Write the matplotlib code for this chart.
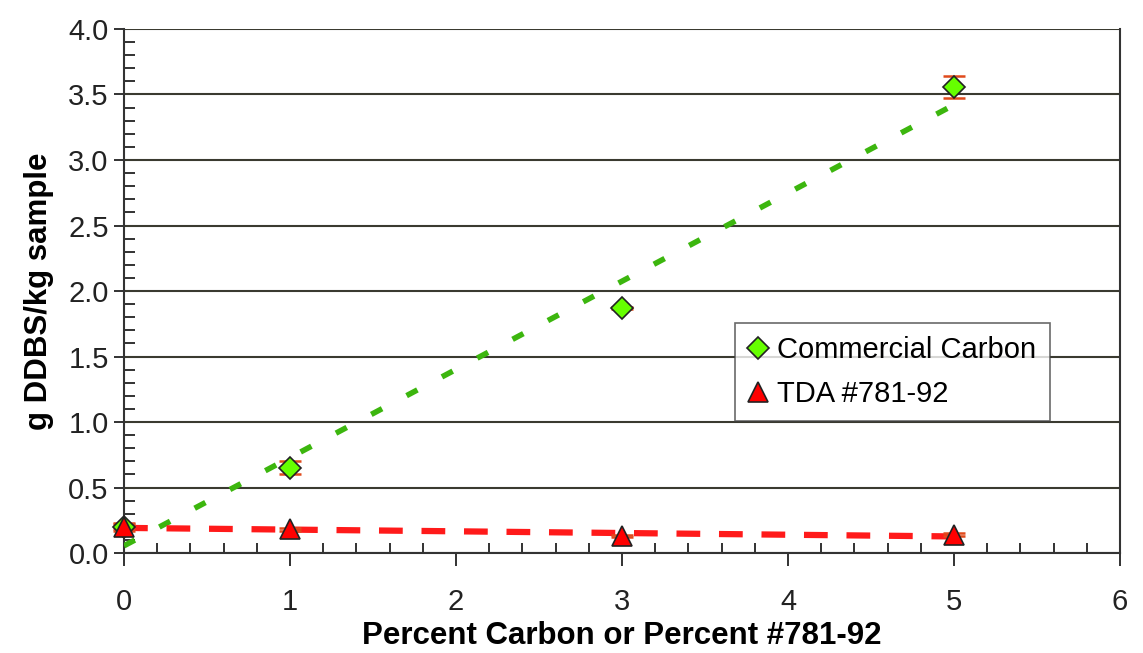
"""DDBS uptake versus percent carbon or percent #781-92."""
import numpy as np
import matplotlib.pyplot as plt
from matplotlib.ticker import MultipleLocator

plt.rcParams['font.family'] = ['Liberation Sans', 'DejaVu Sans']

# measured values
pct = [0, 1, 3, 5]
commercial = [0.20, 0.65, 1.87, 3.56]
commercial_err = [0.02, 0.05, 0.01, 0.085]
tda = [0.20, 0.18, 0.13, 0.14]
tda_err = [0.03, 0.01, 0.01, 0.01]

fig = plt.figure(figsize=(11.43, 6.53), dpi=100)
ax = fig.add_axes([0.1085, 0.1531, 0.8714, 0.8025])

# linear trend lines
xfit = np.array([0, 5])
cfit = np.polyfit(pct, commercial, 1)
tfit = np.polyfit(pct, tda, 1)
ax.plot(xfit, np.polyval(cfit, xfit), color='#3cb60e', lw=4,
        dashes=(2.2, 5), zorder=3)
ax.plot(xfit, np.polyval(tfit, xfit), color='#ff1a1a', lw=4.5,
        dashes=(3.8, 3), zorder=3)

# error bars then markers
ax.errorbar(pct, commercial, yerr=commercial_err, fmt='none',
            ecolor='#e04a1c', elinewidth=1.8, capsize=8, capthick=1.8,
            zorder=4, clip_on=False)
ax.errorbar(pct, tda, yerr=tda_err, fmt='none',
            ecolor='#e04a1c', elinewidth=1.8, capsize=8, capthick=1.8,
            zorder=4, clip_on=False)
ax.plot(pct, commercial, ls='none', marker='D', ms=11, mfc='#66ff00',
        mec='#222222', mew=1.2, zorder=5, clip_on=False,
        label='Commercial Carbon')
ax.plot(pct, tda, ls='none', marker='^', ms=14, mfc='#ff0000',
        mec='#222222', mew=1.2, zorder=6, clip_on=False,
        label='TDA #781-92')

ax.set_xlim(0, 6)
ax.set_ylim(0, 4)
ax.xaxis.set_major_locator(MultipleLocator(1))
ax.xaxis.set_minor_locator(MultipleLocator(0.2))
ax.yaxis.set_major_locator(MultipleLocator(0.5))
ax.yaxis.set_minor_locator(MultipleLocator(0.1))
ax.yaxis.set_major_formatter(plt.FormatStrFormatter('%.1f'))

ax.grid(axis='y', which='major', color='#3a3a30', lw=1.5, zorder=1)
ax.set_axisbelow(True)
ax.spines['top'].set_visible(False)
for side in ['left', 'bottom', 'right']:
    ax.spines[side].set_color('#333333')
    ax.spines[side].set_linewidth(1.5)

ax.tick_params(axis='x', which='major', direction='out', length=9,
               width=1.3, labelsize=21, pad=16, colors='#222222')
ax.tick_params(axis='x', which='minor', direction='in', length=7,
               width=1.3, colors='#222222')
ax.tick_params(axis='y', which='major', direction='out', length=7,
               width=1.3, labelsize=21, pad=4, colors='#222222')
ax.tick_params(axis='y', which='minor', direction='in', length=8,
               width=1.3, colors='#222222')

ax.set_xlabel('Percent Carbon or Percent #781-92', fontsize=22.5,
              fontweight='bold', labelpad=4)
ax.set_ylabel('g DDBS/kg sample', fontsize=22.5, fontweight='bold',
              labelpad=10)

leg = ax.legend(loc='upper left', bbox_to_anchor=(0.6135, 0.439),
                fontsize=21, frameon=True, fancybox=False, handlelength=0.7,
                handletextpad=0.3, borderpad=0.45, labelspacing=0.55,
                borderaxespad=0)
leg.get_frame().set_edgecolor('#444444')
leg.get_frame().set_linewidth(1.2)
leg.set_zorder(7)

fig.savefig('out.png', dpi=100)
